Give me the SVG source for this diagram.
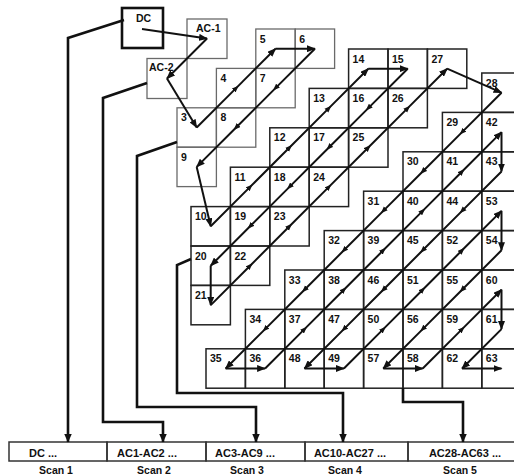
<svg xmlns="http://www.w3.org/2000/svg" width="514" height="475" viewBox="0 0 514 475">
<style>
text{font-family:"Liberation Sans",Arial,sans-serif;font-weight:bold;fill:#111;}
.n{font-size:10.5px;}
.lab{font-size:10.5px;}
.bt{font-size:11px;text-anchor:middle;}
.sc{font-size:10.5px;text-anchor:middle;}
.g3 rect{fill:none;stroke:#6a6a6a;stroke-width:1.3;}
.g4 rect{fill:none;stroke:#222;stroke-width:1.5;}
.box{fill:none;stroke:#333;stroke-width:1.5;}
.zz{fill:none;stroke:#111;stroke-width:2;stroke-linejoin:miter;marker-mid:url(#mid);marker-end:url(#end);}
.cn{fill:none;stroke:#111;stroke-width:2.6;marker-end:url(#cend);}
</style>
<defs>
<marker id="end" markerUnits="userSpaceOnUse" markerWidth="9" markerHeight="7" refX="8" refY="3.5" orient="auto"><path d="M0,0 L9,3.5 L0,7 z" fill="#111"/></marker>
<marker id="mid" markerUnits="userSpaceOnUse" markerWidth="7" markerHeight="6" refX="3.5" refY="3" orient="auto"><path d="M0,0.3 L7,3 L0,5.7 z" fill="#111"/></marker>
<marker id="cend" markerUnits="userSpaceOnUse" markerWidth="9" markerHeight="8" refX="8.5" refY="4" orient="auto"><path d="M0,0 L9,4 L0,8 z" fill="#111"/></marker>
</defs>

<!-- Scan 1 -->
<g id="dc"><rect x="122" y="8" width="41" height="40" fill="none" stroke="#111" stroke-width="2.6"/><text class="lab" x="136" y="22">DC</text></g>

<!-- Scan 2 -->
<g class="g3">
<g id="ac1"><rect x="187" y="19" width="40" height="39.5"/><text class="lab" x="196" y="32">AC-1</text></g>
<g id="ac2"><rect x="147" y="58.5" width="40" height="40"/><text class="lab" x="149" y="71">AC-2</text></g>
</g>

<!-- Scan 3 -->
<g class="g3">
<g id="c3"><rect x="177" y="107.8" width="39.4" height="39.4"/><text class="n" x="181" y="121.3">3</text></g>
<g id="c4"><rect x="216.4" y="68.4" width="39.4" height="39.4"/><text class="n" x="220.4" y="81.9">4</text></g>
<g id="c5"><rect x="255.8" y="29" width="39.4" height="39.4"/><text class="n" x="259.8" y="42.5">5</text></g>
<g id="c6"><rect x="295.2" y="29" width="39.4" height="39.4"/><text class="n" x="299.2" y="42.5">6</text></g>
<g id="c7"><rect x="255.8" y="68.4" width="39.4" height="39.4"/><text class="n" x="259.8" y="81.9">7</text></g>
<g id="c8"><rect x="216.4" y="107.8" width="39.4" height="39.4"/><text class="n" x="220.4" y="121.3">8</text></g>
<g id="c9"><rect x="177" y="147.2" width="39.4" height="39.4"/><text class="n" x="181" y="160.7">9</text></g>
</g>

<!-- Scan 4 -->
<g class="g4">
<g id="c10"><rect x="191" y="206.6" width="39.4" height="39.4"/><text class="n" x="195" y="220.1">10</text></g>
<g id="c11"><rect x="230.4" y="167.2" width="39.4" height="39.4"/><text class="n" x="234.4" y="180.7">11</text></g>
<g id="c12"><rect x="269.8" y="127.8" width="39.4" height="39.4"/><text class="n" x="273.8" y="141.3">12</text></g>
<g id="c13"><rect x="309.2" y="88.4" width="39.4" height="39.4"/><text class="n" x="313.2" y="101.9">13</text></g>
<g id="c14"><rect x="348.6" y="49" width="39.4" height="39.4"/><text class="n" x="352.6" y="62.5">14</text></g>
<g id="c15"><rect x="388" y="49" width="39.4" height="39.4"/><text class="n" x="392" y="62.5">15</text></g>
<g id="c16"><rect x="348.6" y="88.4" width="39.4" height="39.4"/><text class="n" x="352.6" y="101.9">16</text></g>
<g id="c17"><rect x="309.2" y="127.8" width="39.4" height="39.4"/><text class="n" x="313.2" y="141.3">17</text></g>
<g id="c18"><rect x="269.8" y="167.2" width="39.4" height="39.4"/><text class="n" x="273.8" y="180.7">18</text></g>
<g id="c19"><rect x="230.4" y="206.6" width="39.4" height="39.4"/><text class="n" x="234.4" y="220.1">19</text></g>
<g id="c20"><rect x="191" y="246" width="39.4" height="39.4"/><text class="n" x="195" y="259.5">20</text></g>
<g id="c21"><rect x="191" y="285.4" width="39.4" height="39.4"/><text class="n" x="195" y="298.9">21</text></g>
<g id="c22"><rect x="230.4" y="246" width="39.4" height="39.4"/><text class="n" x="234.4" y="259.5">22</text></g>
<g id="c23"><rect x="269.8" y="206.6" width="39.4" height="39.4"/><text class="n" x="273.8" y="220.1">23</text></g>
<g id="c24"><rect x="309.2" y="167.2" width="39.4" height="39.4"/><text class="n" x="313.2" y="180.7">24</text></g>
<g id="c25"><rect x="348.6" y="127.8" width="39.4" height="39.4"/><text class="n" x="352.6" y="141.3">25</text></g>
<g id="c26"><rect x="388" y="88.4" width="39.4" height="39.4"/><text class="n" x="392" y="101.9">26</text></g>
<g id="c27"><rect x="427.4" y="49" width="39.4" height="39.4"/><text class="n" x="431.4" y="62.5">27</text></g>
</g>

<!-- Scan 5 -->
<g class="g4">
<g id="c28"><rect x="481.8" y="73" width="39.4" height="39.4"/><text class="n" x="485.8" y="86.5">28</text></g>
<g id="c29"><rect x="442.4" y="112.4" width="39.4" height="39.4"/><text class="n" x="446.4" y="125.9">29</text></g>
<g id="c30"><rect x="403" y="151.8" width="39.4" height="39.4"/><text class="n" x="407" y="165.3">30</text></g>
<g id="c31"><rect x="363.6" y="191.2" width="39.4" height="39.4"/><text class="n" x="367.6" y="204.7">31</text></g>
<g id="c32"><rect x="324.2" y="230.6" width="39.4" height="39.4"/><text class="n" x="328.2" y="244.1">32</text></g>
<g id="c33"><rect x="284.8" y="270" width="39.4" height="39.4"/><text class="n" x="288.8" y="283.5">33</text></g>
<g id="c34"><rect x="245.4" y="309.4" width="39.4" height="39.4"/><text class="n" x="249.4" y="322.9">34</text></g>
<g id="c35"><rect x="206" y="348.8" width="39.4" height="39.4"/><text class="n" x="210" y="362.3">35</text></g>
<g id="c36"><rect x="245.4" y="348.8" width="39.4" height="39.4"/><text class="n" x="249.4" y="362.3">36</text></g>
<g id="c37"><rect x="284.8" y="309.4" width="39.4" height="39.4"/><text class="n" x="288.8" y="322.9">37</text></g>
<g id="c38"><rect x="324.2" y="270" width="39.4" height="39.4"/><text class="n" x="328.2" y="283.5">38</text></g>
<g id="c39"><rect x="363.6" y="230.6" width="39.4" height="39.4"/><text class="n" x="367.6" y="244.1">39</text></g>
<g id="c40"><rect x="403" y="191.2" width="39.4" height="39.4"/><text class="n" x="407" y="204.7">40</text></g>
<g id="c41"><rect x="442.4" y="151.8" width="39.4" height="39.4"/><text class="n" x="446.4" y="165.3">41</text></g>
<g id="c42"><rect x="481.8" y="112.4" width="39.4" height="39.4"/><text class="n" x="485.8" y="125.9">42</text></g>
<g id="c43"><rect x="481.8" y="151.8" width="39.4" height="39.4"/><text class="n" x="485.8" y="165.3">43</text></g>
<g id="c44"><rect x="442.4" y="191.2" width="39.4" height="39.4"/><text class="n" x="446.4" y="204.7">44</text></g>
<g id="c45"><rect x="403" y="230.6" width="39.4" height="39.4"/><text class="n" x="407" y="244.1">45</text></g>
<g id="c46"><rect x="363.6" y="270" width="39.4" height="39.4"/><text class="n" x="367.6" y="283.5">46</text></g>
<g id="c47"><rect x="324.2" y="309.4" width="39.4" height="39.4"/><text class="n" x="328.2" y="322.9">47</text></g>
<g id="c48"><rect x="284.8" y="348.8" width="39.4" height="39.4"/><text class="n" x="288.8" y="362.3">48</text></g>
<g id="c49"><rect x="324.2" y="348.8" width="39.4" height="39.4"/><text class="n" x="328.2" y="362.3">49</text></g>
<g id="c50"><rect x="363.6" y="309.4" width="39.4" height="39.4"/><text class="n" x="367.6" y="322.9">50</text></g>
<g id="c51"><rect x="403" y="270" width="39.4" height="39.4"/><text class="n" x="407" y="283.5">51</text></g>
<g id="c52"><rect x="442.4" y="230.6" width="39.4" height="39.4"/><text class="n" x="446.4" y="244.1">52</text></g>
<g id="c53"><rect x="481.8" y="191.2" width="39.4" height="39.4"/><text class="n" x="485.8" y="204.7">53</text></g>
<g id="c54"><rect x="481.8" y="230.6" width="39.4" height="39.4"/><text class="n" x="485.8" y="244.1">54</text></g>
<g id="c55"><rect x="442.4" y="270" width="39.4" height="39.4"/><text class="n" x="446.4" y="283.5">55</text></g>
<g id="c56"><rect x="403" y="309.4" width="39.4" height="39.4"/><text class="n" x="407" y="322.9">56</text></g>
<g id="c57"><rect x="363.6" y="348.8" width="39.4" height="39.4"/><text class="n" x="367.6" y="362.3">57</text></g>
<g id="c58"><rect x="403" y="348.8" width="39.4" height="39.4"/><text class="n" x="407" y="362.3">58</text></g>
<g id="c59"><rect x="442.4" y="309.4" width="39.4" height="39.4"/><text class="n" x="446.4" y="322.9">59</text></g>
<g id="c60"><rect x="481.8" y="270" width="39.4" height="39.4"/><text class="n" x="485.8" y="283.5">60</text></g>
<g id="c61"><rect x="481.8" y="309.4" width="39.4" height="39.4"/><text class="n" x="485.8" y="322.9">61</text></g>
<g id="c62"><rect x="442.4" y="348.8" width="39.4" height="39.4"/><text class="n" x="446.4" y="362.3">62</text></g>
<g id="c63"><rect x="481.8" y="348.8" width="39.4" height="39.4"/><text class="n" x="485.8" y="362.3">63</text></g>
</g>

<!-- Bottom scan boxes -->
<g id="scan1"><rect class="box" x="9" y="442" width="98" height="19"/><text class="bt" x="43" y="456.5">DC ...</text><text class="sc" x="56" y="474">Scan 1</text></g>
<g id="scan2"><rect class="box" x="107" y="442" width="99" height="19"/><text class="bt" x="147" y="456.5">AC1-AC2 ...</text><text class="sc" x="154" y="474">Scan 2</text></g>
<g id="scan3"><rect class="box" x="206" y="442" width="99" height="19"/><text class="bt" x="245" y="456.5">AC3-AC9 ...</text><text class="sc" x="247" y="474">Scan 3</text></g>
<g id="scan4"><rect class="box" x="305" y="442" width="103" height="19"/><text class="bt" x="350" y="456.5">AC10-AC27 ...</text><text class="sc" x="345" y="474">Scan 4</text></g>
<g id="scan5"><rect class="box" x="408" y="442" width="112" height="19"/><text class="bt" x="465" y="456.5">AC28-AC63 ...</text><text class="sc" x="460" y="474">Scan 5</text></g>

<!-- Connectors -->
<g id="connectors">
<path class="zz" d="M142,29 L207,38.5"/>
<path class="zz" d="M207,38.5 L167,78.5"/>
<path class="zz" d="M167,78.5 L196.7,127.5"/>
<path class="zz" d="M196.7,127.5 L236.1,88.1 L275.5,48.7"/>
<path class="zz" d="M275.5,48.7 L314.9,48.7"/>
<path class="zz" d="M314.9,48.7 L275.5,88.1 L236.1,127.5 L196.7,166.9"/>
<path class="zz" d="M196.7,166.9 L210.7,226.3"/>
<path class="zz" d="M210.7,226.3 L250.1,186.9 L289.5,147.5 L328.9,108.1 L368.3,68.7"/>
<path class="zz" d="M368.3,68.7 L407.7,68.7"/>
<path class="zz" d="M407.7,68.7 L368.3,108.1 L328.9,147.5 L289.5,186.9 L250.1,226.3 L210.7,265.7"/>
<path class="zz" d="M210.7,265.7 L210.7,305.1"/>
<path class="zz" d="M210.7,305.1 L250.1,265.7 L289.5,226.3 L328.9,186.9 L368.3,147.5 L407.7,108.1 L447.1,68.7"/>
<path class="zz" d="M447.1,68.7 L501.5,92.7"/>
<path class="zz" d="M501.5,92.7 L462.1,132.1 L422.7,171.5 L383.3,210.9 L343.9,250.3 L304.5,289.7 L265.1,329.1 L225.7,368.5"/>
<path class="zz" d="M225.7,368.5 L265.1,368.5"/>
<path class="zz" d="M265.1,368.5 L304.5,329.1 L343.9,289.7 L383.3,250.3 L422.7,210.9 L462.1,171.5 L501.5,132.1"/>
<path class="zz" d="M501.5,132.1 L501.5,171.5"/>
<path class="zz" d="M501.5,171.5 L462.1,210.9 L422.7,250.3 L383.3,289.7 L343.9,329.1 L304.5,368.5"/>
<path class="zz" d="M304.5,368.5 L343.9,368.5"/>
<path class="zz" d="M343.9,368.5 L383.3,329.1 L422.7,289.7 L462.1,250.3 L501.5,210.9"/>
<path class="zz" d="M501.5,210.9 L501.5,250.3"/>
<path class="zz" d="M501.5,250.3 L462.1,289.7 L422.7,329.1 L383.3,368.5"/>
<path class="zz" d="M383.3,368.5 L422.7,368.5"/>
<path class="zz" d="M422.7,368.5 L462.1,329.1 L501.5,289.7"/>
<path class="zz" d="M501.5,289.7 L501.5,329.1"/>
<path class="zz" d="M501.5,329.1 L462.1,368.5"/>
<path class="zz" d="M462.1,368.5 L501.5,368.5"/>

<path class="cn" d="M124,20 L68,38 L68,442"/>
<path class="cn" d="M147,83 L103,98 L103,422 L163,422 L163,442"/>
<path class="cn" d="M177,142 L137,156 L137,407 L256,407 L256,442"/>
<path class="cn" d="M191,259 L177,265 L177,393 L343,393 L343,442"/>
<path class="cn" d="M403,388 L403,402 L463,402 L463,442"/>
</g>
</svg>
